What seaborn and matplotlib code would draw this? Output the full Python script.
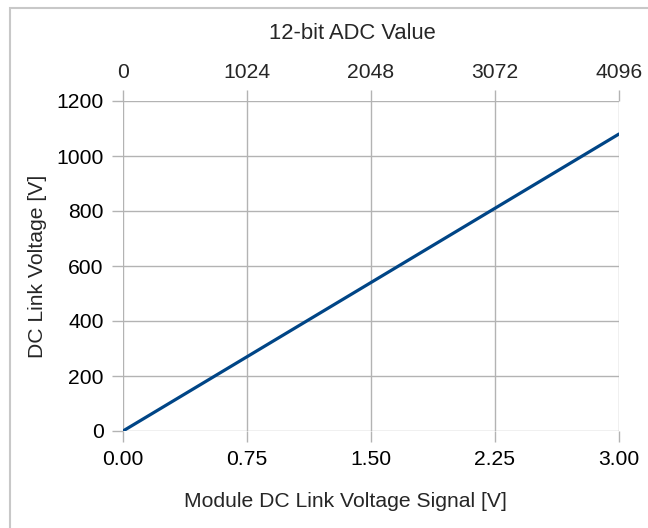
import matplotlib
matplotlib.use("Agg")
import matplotlib.pyplot as plt
import seaborn as sns
import pandas as pd
from matplotlib.patches import Rectangle

sns.set_theme(style="white")
plt.rcParams['font.family'] = ['Liberation Sans', 'DejaVu Sans']

signal_v = [0.0, 3.0]
dc_link_v = [0.0, 1080.0]
x_ticks = [0.0, 0.75, 1.5, 2.25, 3.0]
y_ticks = [0, 200, 400, 600, 800, 1000, 1200]
adc_ticks = [0, 1024, 2048, 3072, 4096]

df = pd.DataFrame({"signal": signal_v, "voltage": dc_link_v})

fig = plt.figure(figsize=(6.48, 5.28), dpi=100)
ax = fig.add_axes([123/648, 1-431/528, (619-123)/648, (431-101)/528])

grid_c = "#b3b3b3"
fs = 15.2
sns.lineplot(data=df, x="signal", y="voltage", ax=ax, color="#004586", linewidth=2.3, zorder=3)

ax.set_xlim(0, 3.0)
ax.set_ylim(0, 1200)
ax.set_xticks(x_ticks)
ax.set_xticklabels([f"{v:.2f}" for v in x_ticks], fontsize=fs)
ax.set_yticks(y_ticks)
ax.set_yticklabels([str(v) for v in y_ticks], fontsize=fs)
ax.grid(True, color=grid_c, linewidth=1)
for s in ax.spines.values():
    s.set_visible(False)
ax.tick_params(axis="both", length=8, width=1, color=grid_c, pad=6, labelcolor="black",
               bottom=True, left=True)
ax.set_xlabel("Module DC Link Voltage Signal [V]", fontsize=fs, va="center")
ax.xaxis.set_label_coords(0.448, -0.215)
ax.set_ylabel("DC Link Voltage [V]", fontsize=fs, va="center")
ax.yaxis.set_label_coords(-0.173, 0.5)

ax2 = ax.twiny()
ax2.set_xlim(0, 4096)
ax2.set_xticks(adc_ticks)
ax2.set_xticklabels([str(v) for v in adc_ticks], fontsize=fs)
for s in ax2.spines.values():
    s.set_visible(False)
ax2.tick_params(axis="x", length=8, width=1, color=grid_c, pad=6, top=True)
ax2.set_xlabel("12-bit ADC Value", fontsize=15.8, va="center")
ax2.xaxis.set_label_coords(0.462, 1.206)

fig.patches.append(Rectangle((10/648, -0.1), 1.2, 1 - 8/528 + 0.1, transform=fig.transFigure,
                             fill=False, edgecolor="#c8c8c8", linewidth=1.5, zorder=0))

fig.savefig("out.png", dpi=100)
